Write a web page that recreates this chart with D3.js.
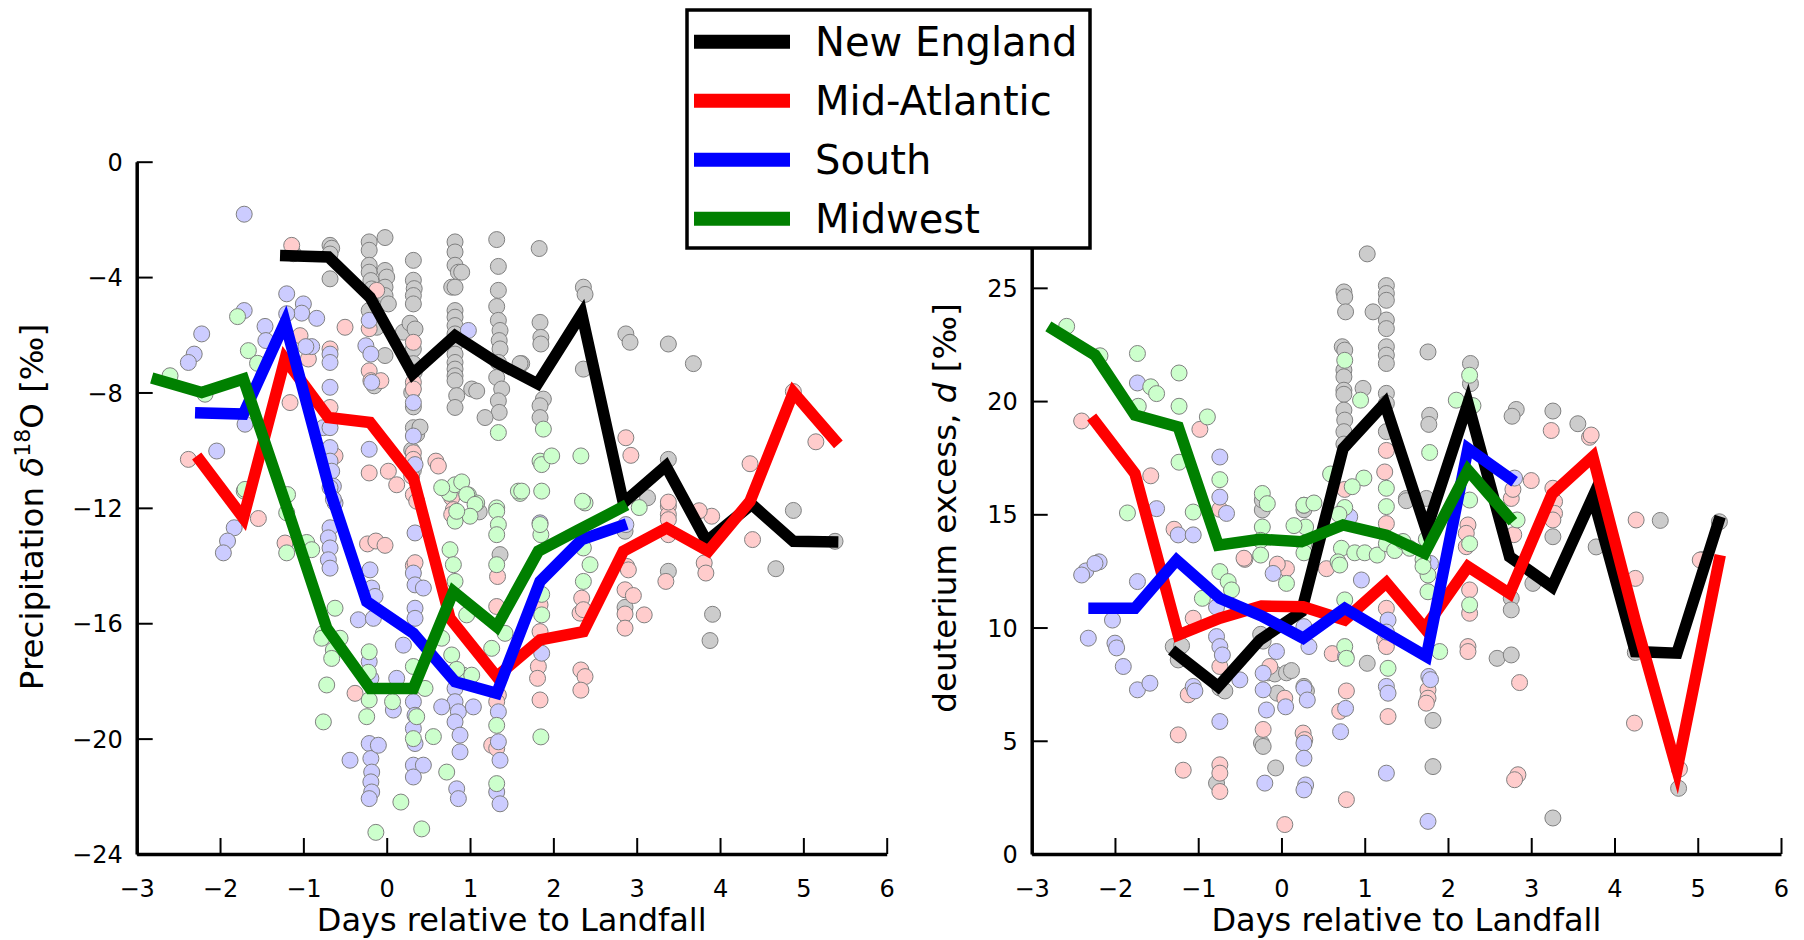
<!DOCTYPE html>
<html><head><meta charset="utf-8">
<script src="https://cdn.jsdelivr.net/npm/d3@7"></script>
<style>
html,body{margin:0;padding:0;background:#fff;}
text{font-family:"DejaVu Sans",sans-serif;}
</style></head>
<body><div id="chart"></div>
<script>
// ---------------- DATA ----------------
const regions = ["New England","Mid-Atlantic","South","Midwest"];
const lineColors = ["#000000","#ff0000","#0000ff","#008000"];
const pointColors = ["#cccccc","#ffcccc","#ccccff","#ccffcc"];
const xTicks = [-3,-2,-1,0,1,2,3,4,5,6];
const yTicksLeft = [0,-4,-8,-12,-16,-20,-24];
const yTicksRight = [0,5,10,15,20,25,30];

// Left panel: delta18O mean lines [day, value]
const neLineO = [[-1.28,-3.25],[-0.70,-3.30],[-0.20,-4.70],[0.31,-7.36],[0.82,-6.03],[1.32,-6.96],[1.81,-7.70],[2.34,-5.27],[2.84,-11.83],[3.35,-10.55],[3.84,-13.16],[4.38,-11.88],[4.88,-13.16],[5.42,-13.18]];
const maLineO = [[-2.28,-10.2],[-1.72,-12.35],[-1.22,-6.84],[-0.70,-8.87],[-0.20,-9.04],[0.32,-10.96],[0.76,-15.83],[1.32,-17.85],[1.84,-16.58],[2.36,-16.29],[2.84,-13.5],[3.36,-12.70],[3.86,-13.5],[4.36,-11.77],[4.88,-8.0],[5.42,-9.80]];
const saLineO = [[-2.30,-8.70],[-1.72,-8.75],[-1.22,-5.57],[-0.68,-11.42],[-0.24,-15.25],[0.32,-16.35],[0.82,-18.03],[1.32,-18.43],[1.84,-14.55],[2.34,-13.1],[2.88,-12.56]];
const mwLineO = [[-2.82,-7.50],[-2.22,-8.0],[-1.72,-7.53],[-1.22,-11.8],[-0.72,-16.17],[-0.20,-18.26],[0.32,-18.26],[0.80,-14.9],[1.32,-16.12],[1.82,-13.5],[2.28,-12.8],[2.88,-11.9]];

// Right panel: deuterium excess mean lines
const neLineD = [[-1.32,9.01],[-0.76,7.39],[-0.26,9.45],[0.24,10.7],[0.74,17.9],[1.24,19.9],[1.74,14.3],[2.24,19.9],[2.74,13.13],[3.25,11.8],[3.74,15.77],[4.25,8.94],[4.75,8.87],[5.27,14.9]];
const maLineD = [[-2.28,19.3],[-1.76,16.8],[-1.24,9.67],[-0.74,10.41],[-0.24,10.95],[0.26,10.92],[0.76,10.33],[1.26,11.98],[1.72,9.97],[2.24,12.69],[2.74,11.5],[3.25,15.9],[3.74,17.54],[4.25,10.3],[4.75,3.72],[5.27,13.2]];
const saLineD = [[-2.32,10.85],[-1.76,10.85],[-1.26,12.98],[-0.74,11.29],[-0.24,10.51],[0.26,9.53],[0.76,10.85],[1.26,9.75],[1.74,8.72],[2.24,17.9],[2.80,16.44]];
const mwLineD = [[-2.80,23.3],[-2.24,22.03],[-1.76,19.38],[-1.24,18.86],[-0.76,13.64],[-0.26,13.9],[0.24,13.79],[0.74,14.53],[1.26,14.08],[1.72,13.28],[2.24,16.95],[2.78,14.67]];

// Left panel individual samples
const nePtsO = [[-1.12,-3.19],[-0.68,-2.9],[-0.66,-3.0],[-0.68,-3.2],[-0.68,-4.06],[-0.21,-2.78],[-0.02,-2.63],[-0.21,-3.07],[-0.21,-3.59],[-0.21,-3.83],[-0.19,-4.12],[-0.18,-4.41],[-0.02,-3.77],[0.0,-4.0],[-0.02,-4.35],[-0.02,-4.64],[0.02,-4.93],[-0.21,-5.16],[-0.12,-5.74],[-0.15,-7.77],[-0.02,-6.72],[0.2,-5.91],[0.28,-5.6],[0.34,-5.8],[0.32,-3.42],[0.32,-4.11],[0.33,-4.4],[0.32,-4.64],[0.32,-4.93],[0.32,-6.5],[0.32,-7.0],[0.33,-7.3],[0.3,-8.0],[0.32,-8.5],[0.32,-9.22],[0.36,-9.45],[0.3,-10.0],[0.32,-10.35],[0.32,-10.7],[0.4,-9.2],[0.82,-2.78],[0.82,-3.13],[0.82,-3.59],[0.86,-3.83],[0.9,-3.83],[0.78,-4.35],[0.82,-4.35],[0.82,-5.16],[0.82,-5.39],[0.82,-5.68],[0.82,-5.97],[0.82,-6.32],[0.82,-6.67],[0.82,-6.96],[0.82,-7.19],[0.82,-7.42],[0.82,-7.59],[0.84,-8.11],[0.82,-8.52],[1.02,-7.88],[1.08,-7.95],[1.32,-2.7],[1.34,-3.63],[1.34,-4.46],[1.32,-5.02],[1.34,-5.5],[1.36,-5.85],[1.35,-6.2],[1.36,-6.49],[1.34,-6.96],[1.32,-7.48],[1.38,-7.88],[1.34,-8.29],[1.35,-8.69],[1.18,-8.87],[1.62,-7.0],[1.83,-3.01],[1.84,-5.57],[1.85,-6.09],[1.85,-6.32],[1.6,-7.0],[1.88,-8.23],[1.84,-8.46],[1.84,-8.87],[2.36,-4.35],[2.38,-4.6],[2.36,-7.19],[2.87,-5.97],[2.92,-6.26],[3.38,-6.32],[3.68,-7.0],[3.38,-10.32],[3.13,-11.65],[2.86,-12.81],[2.86,-15.45],[3.38,-14.2],[3.91,-15.69],[3.88,-16.6],[4.88,-12.09],[4.67,-14.11],[5.38,-13.16],[1.36,-13.62],[1.11,-12.14]];
const maPtsO = [[-1.14,-2.9],[-0.5,-5.74],[-0.12,-4.46],[-0.21,-5.79],[-0.21,-7.25],[-0.19,-7.59],[-0.07,-7.59],[-1.04,-6.03],[-0.94,-6.84],[-1.16,-8.35],[-0.68,-6.49],[-0.68,-8.52],[-0.62,-10.2],[-0.21,-10.79],[0.02,-10.73],[0.12,-11.2],[0.32,-6.26],[0.32,-7.65],[0.32,-7.88],[0.32,-10.09],[0.32,-10.32],[0.3,-10.9],[0.32,-11.54],[0.36,-11.77],[0.59,-10.38],[0.62,-10.55],[-2.38,-10.32],[0.78,-11.65],[-1.54,-12.37],[-1.22,-13.22],[-0.23,-13.25],[-0.13,-13.15],[-0.02,-13.3],[0.32,-14.0],[0.34,-13.9],[-0.38,-18.43],[0.80,-12.06],[0.78,-12.23],[1.33,-14.38],[1.32,-15.42],[1.34,-18.49],[1.32,-18.72],[1.26,-20.23],[1.32,-20.34],[3.38,-11.94],[3.38,-12.23],[3.38,-12.41],[3.38,-12.93],[3.9,-12.29],[4.39,-13.1],[3.81,-13.91],[3.83,-14.26],[3.35,-14.55],[2.88,-14.03],[2.9,-14.15],[2.86,-14.84],[2.96,-15.04],[2.86,-15.68],[2.86,-16.17],[3.09,-15.71],[2.34,-15.13],[2.32,-15.65],[2.36,-15.53],[2.33,-17.62],[2.38,-17.85],[2.33,-18.32],[1.84,-16.29],[1.82,-17.5],[1.81,-17.91],[1.84,-18.66],[1.84,-15.36],[2.87,-9.57],[2.93,-10.18],[4.36,-10.47],[4.88,-7.97],[5.15,-9.71],[3.75,-12.1],[3.38,-11.8]];
const saPtsO = [[-1.71,-1.82],[-1.2,-4.58],[-1.71,-5.16],[-1.0,-4.93],[-1.02,-5.25],[-0.84,-5.43],[-1.2,-5.27],[-1.46,-5.71],[-1.45,-6.2],[-0.9,-6.41],[-0.97,-6.41],[-0.68,-6.67],[-0.68,-6.96],[-0.68,-7.82],[-2.22,-5.97],[-2.31,-6.67],[-2.38,-6.96],[-1.7,-9.1],[-2.04,-10.03],[-0.21,-5.5],[-0.25,-6.38],[-0.19,-6.67],[-0.18,-7.65],[0.98,-5.85],[0.32,-8.35],[0.32,-9.51],[0.34,-10.5],[-0.21,-9.97],[-0.76,-9.22],[-0.68,-9.22],[-0.68,-9.91],[-0.68,-10.38],[-0.66,-10.73],[-0.64,-11.25],[-0.62,-11.83],[-1.83,-12.69],[-1.91,-13.15],[-1.96,-13.56],[-0.68,-11.3],[-0.64,-11.7],[-0.68,-12.69],[-0.7,-13.04],[-0.68,-13.39],[-0.7,-13.8],[-0.68,-14.09],[-0.2,-14.15],[-0.18,-14.78],[-0.14,-15.07],[-0.34,-15.88],[-0.16,-15.83],[-0.21,-17.33],[-0.19,-17.91],[0.12,-17.91],[0.08,-19.01],[-0.21,-20.17],[-0.19,-20.69],[-0.18,-21.16],[-0.19,-21.5],[-0.18,-21.85],[-0.21,-22.08],[-0.1,-20.23],[-0.44,-20.75],[0.34,-12.87],[0.32,-14.26],[0.34,-14.67],[0.44,-14.78],[0.34,-15.48],[0.34,-15.83],[0.2,-16.76],[0.32,-18.72],[0.34,-19.19],[0.32,-19.65],[0.34,-20.17],[0.32,-20.92],[0.44,-20.92],[0.32,-21.33],[0.82,-18.26],[0.82,-18.72],[0.86,-19.07],[0.82,-19.42],[0.88,-19.88],[0.66,-18.9],[1.04,-18.9],[0.84,-21.74],[0.86,-22.08],[0.88,-20.46],[1.34,-19.07],[1.34,-20.11],[1.36,-20.75],[1.32,-21.85],[1.36,-22.26],[1.84,-12.52],[1.86,-17.04],[2.87,-12.58]];
const mwPtsO = [[-1.79,-5.37],[-1.66,-6.55],[-1.55,-6.99],[-2.6,-7.42],[-2.18,-8.06],[-1.71,-11.42],[-1.19,-11.54],[1.34,-9.39],[0.75,-11.5],[0.82,-11.2],[0.98,-11.55],[1.08,-11.83],[0.9,-11.1],[1.32,-12.0],[1.6,-11.5],[-1.7,-11.36],[-1.2,-12.17],[-1.2,-13.56],[-0.96,-13.2],[-0.9,-13.45],[-0.76,-16.35],[-0.78,-16.52],[-0.64,-16.93],[-0.66,-17.22],[-0.62,-15.48],[-0.56,-16.52],[-0.72,-18.14],[-0.76,-19.42],[-0.21,-16.99],[-0.21,-18.66],[-0.24,-19.24],[-0.22,-17.7],[0.07,-18.72],[0.17,-22.2],[-0.13,-23.25],[0.32,-17.5],[0.36,-19.24],[0.32,-20.0],[0.42,-23.13],[0.46,-18.26],[0.56,-19.93],[0.72,-21.16],[0.66,-16.52],[0.76,-13.45],[0.8,-13.97],[0.82,-14.55],[0.78,-17.1],[0.92,-17.8],[1.02,-17.8],[0.84,-17.6],[0.96,-15.71],[0.66,-11.3],[0.96,-11.54],[1.06,-11.88],[1.0,-12.29],[0.82,-12.46],[0.84,-12.12],[1.32,-12.12],[1.34,-12.58],[1.32,-12.93],[1.32,-13.97],[1.26,-16.87],[1.32,-19.54],[1.32,-21.56],[1.42,-16.35],[1.58,-11.42],[1.62,-11.42],[1.86,-11.42],[2.38,-11.83],[1.85,-12.93],[1.84,-12.58],[2.36,-13.39],[2.44,-13.97],[2.36,-14.55],[1.86,-15.71],[1.86,-15.0],[1.85,-19.94],[3.03,-11.99],[1.88,-9.27],[1.84,-10.38],[1.86,-10.5],[1.98,-10.2],[2.33,-10.2],[2.35,-11.77]];

// Right panel individual samples
const nePtsD = [[1.03,26.5],[0.75,24.82],[0.76,24.6],[0.77,23.94],[0.73,22.4],[0.76,22.25],[0.75,21.37],[0.75,21.07],[0.75,20.48],[0.75,20.3],[0.75,19.6],[0.76,19.16],[0.75,18.65],[0.75,18.1],[1.26,25.1],[1.26,24.75],[1.26,24.45],[1.26,23.58],[1.26,23.2],[1.26,22.4],[1.26,22.03],[1.26,21.66],[1.26,20.34],[1.26,19.9],[1.1,23.94],[0.98,20.56],[1.26,18.65],[1.5,15.7],[-0.23,15.19],[-0.23,15.63],[0.27,15.2],[0.27,15.4],[1.76,22.17],[2.27,21.66],[2.27,20.77],[1.78,19.37],[1.77,18.97],[2.82,19.63],[2.77,19.33],[3.26,19.56],[3.56,19.0],[4.55,14.73],[5.26,14.67],[3.26,14.01],[3.78,13.56],[1.5,15.6],[1.74,15.7],[3.02,11.95],[2.76,11.29],[2.76,10.78],[2.59,8.64],[2.76,8.79],[1.82,5.9],[1.82,3.86],[3.26,1.59],[4.77,2.9],[4.25,8.9],[-1.3,9.16],[-1.2,9.2],[-1.24,8.57],[-0.74,7.33],[-0.68,7.2],[-0.78,3.13],[-0.24,4.9],[-0.22,4.75],[-0.07,3.8],[-0.16,8.0],[-0.08,7.95],[0.06,8.0],[0.12,8.1],[-0.05,7.1],[0.27,7.4],[0.3,7.2],[1.03,8.42],[-0.25,9.7],[-0.22,9.4]];
const maPtsD = [[-2.4,19.12],[-1.57,16.7],[-0.98,18.75],[-1.29,14.34],[-0.74,15.22],[-0.44,13.01],[1.26,17.82],[1.24,16.87],[1.26,14.59],[0.76,16.1],[3.24,18.7],[3.7,18.4],[3.72,18.5],[3.0,16.49],[3.26,16.15],[3.28,15.56],[3.28,15.04],[3.26,14.75],[2.76,15.7],[2.78,16.1],[2.79,14.1],[2.24,14.53],[2.22,14.16],[2.22,13.57],[4.26,14.75],[5.05,13.0],[2.26,11.66],[2.26,10.63],[2.24,9.16],[2.24,8.94],[1.76,7.25],[1.76,6.88],[1.74,6.66],[2.86,7.57],[2.84,3.5],[2.8,3.28],[4.25,12.17],[4.24,5.78],[4.78,3.75],[5.03,12.98],[-1.24,5.26],[-1.18,3.7],[-0.74,3.94],[-0.74,3.57],[-0.74,2.76],[-0.74,8.28],[-1.12,7.03],[-0.22,5.5],[-0.14,8.28],[0.04,6.88],[0.26,5.34],[0.28,5.05],[0.04,1.3],[0.61,8.85],[0.7,6.3],[0.78,7.2],[0.78,2.4],[1.28,6.07],[-1.06,10.41],[-0.45,13.06],[0.06,12.6],[-0.05,12.8],[0.54,12.6],[1.26,10.85],[1.24,9.45],[1.26,9.16]];
const saPtsD = [[-1.73,20.8],[-0.74,17.53],[-0.74,15.76],[-1.5,15.25],[-2.19,12.9],[-2.35,12.5],[-1.24,14.09],[-1.06,14.09],[-0.66,15.04],[0.82,14.89],[-2.4,12.32],[-2.24,12.83],[-1.73,12.03],[-2.03,10.33],[-2.32,9.53],[-2.0,9.31],[-1.98,9.1],[-1.9,8.28],[-1.73,7.25],[-1.58,7.54],[-1.06,7.4],[-1.04,7.2],[-0.74,5.85],[-0.78,9.6],[-0.74,9.16],[-0.71,8.79],[-0.78,10.9],[-0.5,7.69],[-0.22,7.98],[-0.22,7.25],[-0.18,6.36],[0.05,6.5],[-0.2,3.13],[-0.06,8.94],[-0.1,12.39],[0.27,7.32],[0.31,6.8],[0.27,4.9],[0.27,4.23],[0.29,3.05],[0.27,2.83],[0.33,9.16],[0.27,10.04],[0.77,6.43],[0.71,5.4],[0.96,12.1],[0.77,8.72],[1.26,7.4],[1.28,7.1],[1.26,3.57],[1.28,10.33],[1.26,9.8],[1.77,7.84],[1.79,7.7],[1.76,1.44],[1.79,12.83],[2.8,16.6]];
const mwPtsD = [[-2.58,23.3],[-2.18,22.0],[-1.73,22.1],[-1.57,20.63],[-1.5,20.33],[-1.23,21.24],[-1.72,19.77],[-1.23,19.77],[-0.89,19.3],[-1.23,17.3],[-0.74,16.53],[-1.85,15.06],[-1.06,15.1],[-0.23,15.92],[-0.17,15.47],[-0.23,14.44],[-0.25,13.85],[0.27,15.4],[0.39,15.5],[0.29,14.44],[0.27,13.7],[0.15,14.5],[0.76,21.8],[0.95,20.04],[0.99,16.6],[0.59,16.78],[0.85,16.22],[0.76,15.3],[0.69,15.0],[0.72,13.5],[0.68,12.9],[0.88,13.3],[1.0,13.3],[1.15,13.2],[1.26,16.15],[1.26,15.34],[1.26,13.7],[1.36,13.4],[2.26,21.14],[2.1,20.04],[2.3,19.8],[1.78,17.73],[2.26,15.63],[2.26,13.7],[2.83,14.75],[1.46,13.8],[1.54,13.5],[1.7,13.0],[1.74,13.9],[2.26,11.0],[1.9,8.94],[1.76,11.58],[1.76,12.32],[1.7,12.7],[-0.74,12.47],[-0.64,12.03],[-0.6,11.66],[-0.95,11.29],[0.06,11.95],[0.7,12.76],[0.76,11.22],[0.76,9.16],[0.78,8.64],[1.28,8.2],[-0.25,13.2],[0.27,13.3]];

// ---------------- DRAW ----------------
const W = 1804, H = 940;
const svg = d3.select("#chart").append("svg").attr("width", W).attr("height", H)
  .style("display","block");

function fmt(v){ return v < 0 ? "\u2212" + Math.abs(v) : String(v); }

function drawPanel(opt){
  const g = svg.append("g");
  const x = d3.scaleLinear().domain([-3,6]).range([opt.x0, opt.x1]);
  const y = d3.scaleLinear().domain(opt.yDomain).range([opt.yBottom, opt.yTop]);

  opt.points.forEach((pts, i) => {
    g.append("g").selectAll("circle").data(pts).join("circle")
      .attr("cx", d => x(d[0])).attr("cy", d => y(d[1])).attr("r", 8)
      .attr("fill", pointColors[i]).attr("stroke", "#808080").attr("stroke-width", 1);
  });
  const line = d3.line().x(d => x(d[0])).y(d => y(d[1]));
  opt.lines.forEach((ln, i) => {
    g.append("path").attr("d", line(ln)).attr("fill","none")
      .attr("stroke", lineColors[i]).attr("stroke-width", 11.5)
      .attr("stroke-linejoin","miter").attr("stroke-miterlimit", 10).attr("stroke-linecap","butt");
  });

  const xa = g.append("g").attr("transform", `translate(0,${opt.yBottom})`)
    .call(d3.axisBottom(x).tickValues(xTicks).tickFormat(fmt).tickSizeInner(-16).tickSizeOuter(0).tickPadding(26));
  const ya = g.append("g").attr("transform", `translate(${opt.x0},0)`)
    .call(d3.axisLeft(y).tickValues(opt.yTicks).tickFormat(fmt).tickSizeInner(-16).tickSizeOuter(0).tickPadding(14));
  [xa, ya].forEach(a => {
    a.select(".domain").attr("stroke","#000").attr("stroke-width",3.5);
    a.selectAll(".tick line").attr("stroke","#000").attr("stroke-width",2);
    a.selectAll(".tick text").attr("fill","#000").style("font-size","24px").style("font-family","DejaVu Sans");
  });
  ya.selectAll(".tick text").attr("dy","0.36em");

  g.append("text").attr("x", (opt.x0 + opt.x1)/2).attr("y", 931)
    .attr("text-anchor","middle").style("font-size","32px").text("Days relative to Landfall");
  return {x, y, g};
}

drawPanel({x0:136.7, x1:886.7, yTop:161.7, yBottom:854, yDomain:[-24,0], yTicks:yTicksLeft,
  points:[nePtsO, maPtsO, saPtsO, mwPtsO], lines:[neLineO, maLineO, saLineO, mwLineO]});
drawPanel({x0:1031.7, x1:1781, yTop:161.7, yBottom:854, yDomain:[0, 30.57], yTicks:yTicksRight,
  points:[nePtsD, maPtsD, saPtsD, mwPtsD], lines:[neLineD, maLineD, saLineD, mwLineD]});

const yl1 = svg.append("text").attr("transform","translate(43,507) rotate(-90)")
  .attr("text-anchor","middle").style("font-size","32.5px");
yl1.append("tspan").text("Precipitation ");
yl1.append("tspan").style("font-style","italic").text("\u03b4");
yl1.append("tspan").attr("dy",-13).style("font-size","22px").text("18");
yl1.append("tspan").attr("dy",13).text("O [\u2030]");

const yl2 = svg.append("text").attr("transform","translate(956,508) rotate(-90)")
  .attr("text-anchor","middle").style("font-size","32.5px");
yl2.append("tspan").text("deuterium excess, ");
yl2.append("tspan").style("font-style","italic").text("d");
yl2.append("tspan").text(" [\u2030]");

const lg = svg.append("g");
lg.append("rect").attr("x",687).attr("y",10).attr("width",403).attr("height",238)
  .attr("fill","#fff").attr("stroke","#000").attr("stroke-width",3.5);
regions.forEach((r, i) => {
  const cy = 41.7 + i*59;
  lg.append("line").attr("x1",694).attr("x2",790).attr("y1",cy).attr("y2",cy)
    .attr("stroke", lineColors[i]).attr("stroke-width",14);
  lg.append("text").attr("x",815).attr("y",cy+14).style("font-size","40px").text(r);
});
</script>
</body></html>
